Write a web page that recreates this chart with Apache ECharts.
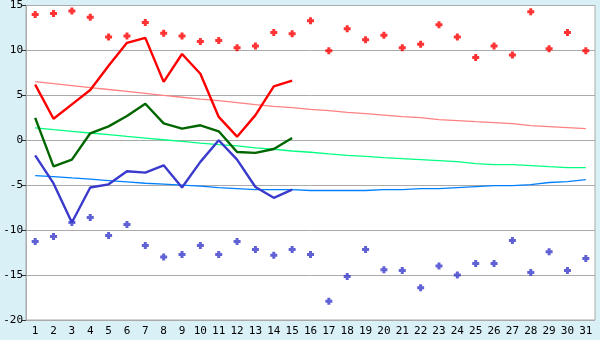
<!DOCTYPE html>
<html><head><meta charset="utf-8">
<script src="https://cdn.jsdelivr.net/npm/echarts@6/dist/echarts.min.js"></script>
<style>html,body{margin:0;padding:0;background:#daf0f7;}#c{width:600px;height:340px;}</style>
</head><body><div id="c"></div>
<script>
const days = ['1','2','3','4','5','6','7','8','9','10','11','12','13','14','15','16','17','18','19','20','21','22','23','24','25','26','27','28','29','30','31'];
const yTicks = { min: -20, max: 15, interval: 5 };
const maxPoints = [14.0,14.1,14.4,13.7,11.5,11.6,13.1,11.9,11.6,11.0,11.1,10.3,10.5,12.0,11.85,13.3,9.97,12.4,11.2,11.7,10.3,10.7,12.85,11.5,9.2,10.5,9.5,14.3,10.2,12.0,9.97];
const minPoints = [-11.26,-10.7,-9.15,-8.6,-10.6,-9.37,-11.7,-13.0,-12.7,-11.7,-12.7,-11.26,-12.15,-12.8,-12.15,-12.7,-17.9,-15.15,-12.15,-14.4,-14.5,-16.4,-14.0,-15.0,-13.7,-13.7,-11.15,-14.7,-12.4,-14.5,-13.15];
const redLine = [6.2,2.4,4.0,5.6,8.3,10.85,11.4,6.5,9.6,7.4,2.6,0.4,2.8,6.0,6.65];
const greenLine = [2.5,-2.9,-2.15,0.78,1.55,2.7,4.07,1.88,1.3,1.67,1.0,-1.3,-1.4,-0.97,0.26];
const blueLine = [-1.67,-4.8,-9.15,-5.26,-4.9,-3.44,-3.6,-2.78,-5.26,-2.4,0.0,-2.15,-5.2,-6.4,-5.5];
const pinkTrend = [6.52,6.30,6.09,5.87,5.65,5.44,5.22,5.00,4.79,4.57,4.41,4.19,3.96,3.78,3.63,3.44,3.30,3.10,2.96,2.81,2.63,2.52,2.30,2.19,2.07,1.96,1.85,1.63,1.52,1.41,1.30];
const greenTrend = [1.37,1.18,1.00,0.81,0.62,0.43,0.25,0.06,-0.13,-0.31,-0.48,-0.63,-0.85,-1.00,-1.19,-1.33,-1.52,-1.67,-1.78,-1.93,-2.04,-2.15,-2.26,-2.37,-2.59,-2.70,-2.70,-2.81,-2.93,-3.04,-3.04];
const blueTrend = [-3.93,-4.04,-4.19,-4.33,-4.48,-4.63,-4.78,-4.89,-5.00,-5.11,-5.26,-5.37,-5.48,-5.48,-5.48,-5.59,-5.59,-5.59,-5.59,-5.48,-5.48,-5.37,-5.37,-5.26,-5.15,-5.04,-5.04,-4.93,-4.70,-4.59,-4.37];

const marker = 'path://M2,0H5V2H7V5H5V7H2V5H0V2H2Z';
const font = 'DejaVu Sans Mono';
function line(data, color, width, z) {
  return { type: 'line', data: data, symbol: 'none', silent: true, z: z,
    lineStyle: { color: color, width: width }, animation: false };
}
function pts(data, color) {
  return { type: 'scatter', data: data, symbol: marker, symbolSize: 7, z: 3,
    itemStyle: { color: color }, animation: false };
}
const chart = echarts.init(document.getElementById('c'), null, { renderer: 'canvas' });
chart.setOption({
  backgroundColor: '#daf0f7',
  animation: false,
  grid: { left: 26, right: 5, top: 5, bottom: 20, show: true, backgroundColor: '#ffffff', borderColor: '#aaaaaa', borderWidth: 1 },
  xAxis: { type: 'category', data: days, boundaryGap: true,
    axisLine: { lineStyle: { color: '#aaaaaa', width: 1 } },
    axisTick: { alignWithLabel: true, length: 6, lineStyle: { color: '#333333' } },
    axisLabel: { color: '#000', fontFamily: font, fontSize: 11, margin: 6, interval: 0 },
    splitLine: { show: false } },
  yAxis: { type: 'value', min: yTicks.min, max: yTicks.max, interval: yTicks.interval,
    axisLine: { show: true, lineStyle: { color: '#aaaaaa' } },
    axisTick: { show: true, length: 4, lineStyle: { color: '#333333' } },
    axisLabel: { color: '#000', fontFamily: font, fontSize: 11, margin: 3 },
    splitLine: { lineStyle: { color: '#aaaaaa', width: 1 } } },
  series: [
    line(pinkTrend, '#ff8080', 1.3, 1),
    line(greenTrend, '#00ff80', 1.3, 1),
    line(blueTrend, '#0080ff', 1.3, 1),
    pts(maxPoints, '#ff0000'),
    pts(minPoints, '#3a3acc'),
    line(redLine, '#ff0000', 2.4, 4),
    line(greenLine, '#006600', 2.4, 4),
    line(blueLine, '#3a3acc', 2.4, 4)
  ]
});
</script></body></html>
